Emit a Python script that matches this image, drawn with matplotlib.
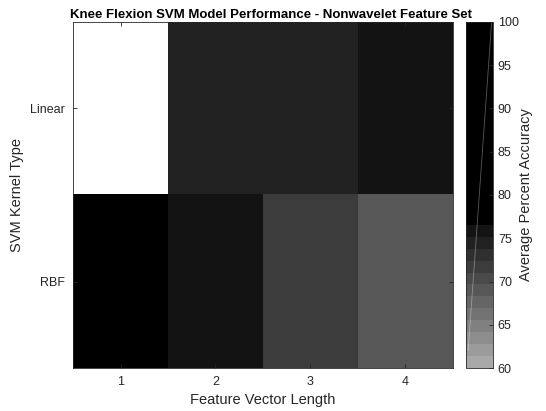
import numpy as np
import matplotlib
matplotlib.use('Agg')
import matplotlib.pyplot as plt
from matplotlib.colors import ListedColormap

# ---- data ----
kernels = ['Linear', 'RBF']
feature_lengths = [1, 2, 3, 4]
linear_acc = [np.nan, 74.5, 74.5, 75.8]
rbf_acc = [85.0, 75.8, 71.5, 68.8]

plt.rcParams['font.family'] = ['Liberation Sans', 'DejaVu Sans']

# stepped gray colormap, black above ~76
levels = []
for k in range(29):
    g = (168 - 13.5 * k) / 255 if k < 12 else 0.0
    levels.append((g, g, g))
cmap = ListedColormap(levels)
cmap.set_bad('white')

acc = np.ma.masked_invalid(np.array([linear_acc, rbf_acc]))

fig = plt.figure(figsize=(5.46, 4.11), dpi=100)
ax = fig.add_axes([73 / 546, 43 / 411, 380 / 546, 346 / 411])
cax = fig.add_axes([466 / 546, 43 / 411, 27 / 546, 346 / 411])

im = ax.imshow(acc, cmap=cmap, vmin=60, vmax=100, aspect='auto',
               extent=[0.5, 4.5, 2.5, 0.5], interpolation='nearest')
ax.set_xticks(feature_lengths)
ax.set_yticks([1, 2])
ax.set_yticklabels(kernels)
ax.tick_params(direction='in', top=True, right=True, length=3, width=0.6,
               labelsize=9, colors='#262626', pad=6)
ax.set_xlabel('Feature Vector Length', fontsize=10.5, color='#262626',
              labelpad=3)
ax.set_ylabel('SVM Kernel Type', fontsize=10.5, color='#262626')
ax.set_title('Knee Flexion SVM Model Performance - Nonwavelet Feature Set',
             fontsize=9.5, fontweight='bold', pad=3, x=0.52)
for s in ax.spines.values():
    s.set_linewidth(0.6)
    s.set_color('#262626')

cb = fig.colorbar(im, cax=cax, ticks=range(60, 101, 5))
cb.ax.tick_params(direction='in', length=3, width=0.6, labelsize=9,
                  colors='#262626')
cb.outline.set_linewidth(0.6)
cb.outline.set_edgecolor('#262626')
cb.set_label('Average Percent Accuracy', fontsize=10.5, color='#262626',
             labelpad=0)
# faint diagonal streak seen on the original colorbar
cax.plot([0.08, 0.95], [0.05, 1.0], transform=cax.transAxes,
         color='white', alpha=0.35, lw=0.6)

fig.savefig('out.png', dpi=100)
